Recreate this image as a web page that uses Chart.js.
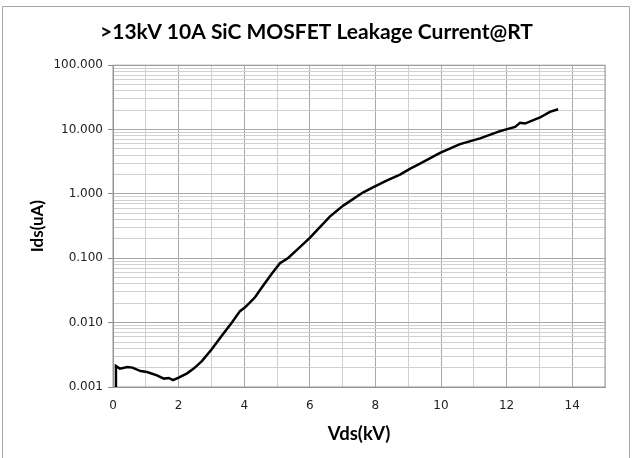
<!DOCTYPE html>
<html lang="en">
  <head>
    <meta charset="UTF-8" />
    <meta name="viewport" content="width=device-width, initial-scale=1.0" />
    <title>SiC MOSFET Leakage Current</title>
    <script src="https://cdn.jsdelivr.net/npm/chart.js"></script>
    <style>
      body { margin: 0; background: #fff; }
    </style>
  </head>
  <body>
    <canvas id="leakageChart" width="638" height="458"></canvas>
    <script>
      // Vds in kV, Ids in uA
      const vds = [
        0.09, 0.09, 0.21, 0.44, 0.59, 0.84, 1.04, 1.34, 1.55, 1.7, 1.83, 2.0,
        2.26, 2.46, 2.71, 3.01, 3.31, 3.62, 3.87, 4.02, 4.33, 4.58, 4.84, 5.09,
        5.34, 5.55, 6.0, 6.61, 7.02, 7.63, 7.94, 8.34, 8.75, 9.05, 9.36, 9.97,
        10.58, 11.19, 11.8, 12.26, 12.41, 12.56, 13.02, 13.32, 13.57
      ];
      const ids = [
        0.001, 0.00212, 0.00193, 0.00205, 0.002, 0.00177, 0.00171, 0.00152,
        0.00135, 0.00138, 0.00128, 0.0014, 0.00163, 0.00193, 0.00253, 0.00385,
        0.0062, 0.01, 0.0151, 0.0171, 0.0248, 0.0377, 0.0573, 0.0836, 0.101,
        0.127, 0.207, 0.445, 0.658, 1.06, 1.27, 1.61, 2.0, 2.45, 2.95, 4.35,
        5.93, 7.28, 9.44, 11.0, 12.7, 12.4, 15.4, 18.8, 20.7
      ];

      const yDecades = [0.001, 0.01, 0.1, 1, 10, 100];
      const yTickLabels = ['0.001', '0.010', '0.100', '1.000', '10.000', '100.000'];
      const xTickLabels = ['0', '2', '4', '6', '8', '10', '12', '14'];

      // log grid: 1..9 in each decade
      const yGridValues = [];
      yDecades.forEach((d, i) => {
        yGridValues.push(d);
        if (i < yDecades.length - 1) {
          for (let k = 2; k <= 9; k++) yGridValues.push(Number((d * k).toPrecision(3)));
        }
      });
      const isDecade = (v) => yDecades.some((d) => Math.abs(d - v) < d * 1e-6);

      const framePlugin = {
        id: 'frames',
        beforeDraw: (chart) => {
          const ctx = chart.ctx;
          ctx.save();
          ctx.fillStyle = '#fff';
          ctx.fillRect(0, 0, chart.width, chart.height);
          ctx.strokeStyle = '#a6a6a6';
          ctx.lineWidth = 1;
          ctx.beginPath();
          ctx.moveTo(2.5, chart.height);
          ctx.lineTo(2.5, 6.5);
          ctx.lineTo(629.5, 6.5);
          ctx.lineTo(629.5, chart.height);
          ctx.stroke();
          ctx.restore();
        },
        beforeDatasetsDraw: (chart) => {
          const { ctx, chartArea: a } = chart;
          ctx.save();
          ctx.strokeStyle = '#9a9a9a';
          ctx.lineWidth = 1;
          ctx.strokeRect(a.left, a.top, a.right - a.left, a.bottom - a.top);
          ctx.restore();
        },
      };

      const config = {
        type: 'line',
        data: {
          datasets: [
            {
              data: vds.map((v, i) => ({ x: v, y: ids[i] })),
              borderColor: '#000',
              borderWidth: 2.5,
              pointRadius: 0,
              tension: 0,
              fill: false,
            },
          ],
        },
        options: {
          responsive: false,
          animation: false,
          layout: { padding: { left: 0, right: 5, top: 0, bottom: 0 } },
          plugins: {
            legend: { display: false },
            tooltip: { enabled: false },
            title: {
              display: true,
              text: '>13kV 10A SiC MOSFET Leakage Current@RT',
              color: '#000',
              font: { family: 'Lato', size: 21, weight: 'bold' },
              padding: { top: 20, bottom: 20 },
            },
          },
          scales: {
            x: {
              type: 'linear',
              min: 0,
              max: 15,
              afterFit: (scale) => { scale.height = 71; },
              ticks: {
                stepSize: 1,
                autoSkip: false,
                maxRotation: 0,
                padding: 12,
                color: '#222',
                font: { family: 'DejaVu Sans', size: 12 },
                callback: (v) => (v % 2 === 0 && xTickLabels.includes(String(v)) ? String(v) : ''),
              },
              grid: {
                drawTicks: false,
                color: (c) => (c.tick && c.tick.value % 2 === 0 ? '#a9a9a9' : '#d0d0d0'),
              },
              border: { color: '#8c8c8c' },
              title: {
                display: true,
                text: 'Vds(kV)',
                color: '#000',
                font: { family: 'Lato', size: 18.5, weight: 'bold' },
                padding: { top: 0, bottom: 13 },
              },
            },
            y: {
              type: 'logarithmic',
              min: 0.001,
              max: 100,
              afterFit: (scale) => { scale.width = 113; },
              afterBuildTicks: (scale) => {
                scale.ticks = yGridValues.map((v) => ({ value: v }));
              },
              ticks: {
                autoSkip: false,
                padding: 5,
                color: '#222',
                font: { family: 'DejaVu Sans', size: 12 },
                callback: (v) => {
                  const i = yDecades.findIndex((d) => Math.abs(d - v) < d * 1e-6);
                  return i >= 0 ? yTickLabels[i] : '';
                },
              },
              grid: {
                tickLength: 5,
                color: (c) => (c.tick && isDecade(c.tick.value) ? '#a9a9a9' : '#d0d0d0'),
                tickColor: (c) => (c.tick && isDecade(c.tick.value) ? '#8c8c8c' : 'rgba(0,0,0,0)'),
              },
              border: { color: '#8c8c8c' },
              title: {
                display: true,
                text: 'Ids(uA)',
                color: '#000',
                font: { family: 'Lato', size: 17, weight: 'bold' },
                padding: { top: 27, bottom: 0 },
              },
            },
            // empty right-hand spacer so the title centres over the whole box
            spacer: {
              type: 'linear',
              position: 'right',
              afterFit: (scale) => { scale.width = 28; },
              grid: { display: false },
              ticks: { display: false },
              border: { display: false },
            },
          },
        },
        plugins: [framePlugin],
      };

      const leakageChart = new Chart(document.getElementById('leakageChart'), config);
    </script>
  </body>
</html>
